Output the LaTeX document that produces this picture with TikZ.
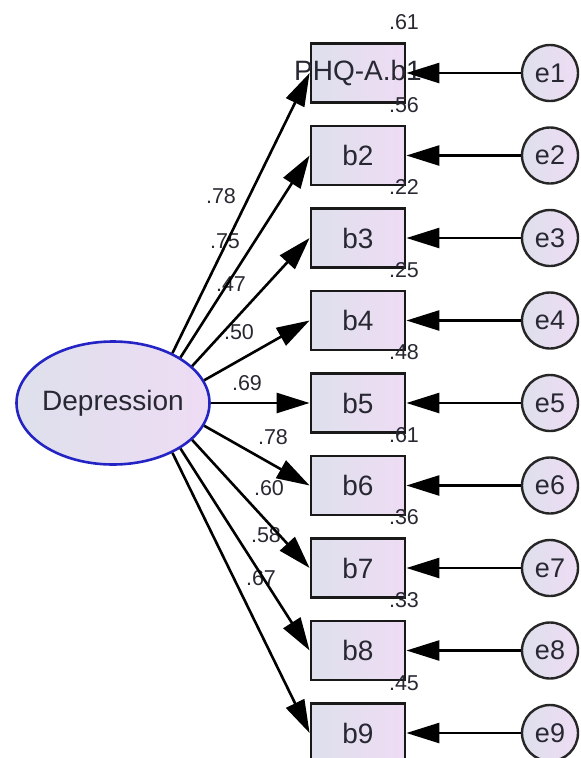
\documentclass[tikz,border=0pt]{standalone}
\usepackage{fontspec}
\setmainfont{Liberation Sans}
\usetikzlibrary{arrows.meta,shapes.geometric}

\definecolor{fillL}{RGB}{222,224,236}
\definecolor{fillR}{RGB}{238,220,244}
\definecolor{latblue}{RGB}{36,36,196}
\definecolor{ink}{RGB}{40,40,50}

\begin{document}
\begin{tikzpicture}[x=1pt,y=-1pt,
  obs/.style={draw=black!90, line width=2.8pt, left color=fillL, right color=fillR,
    minimum width=94pt, minimum height=59pt, inner sep=0pt,
    font=\fontsize{28}{31}\selectfont, text=ink},
  obstext/.style={inner sep=0pt, font=\fontsize{28}{31}\selectfont, text=ink},
  err/.style={circle, draw=black!85, line width=2.4pt, left color=fillL, right color=fillR,
    minimum size=56pt, inner sep=0pt, font=\fontsize{27}{30}\selectfont, text=ink},
  lat/.style={ellipse, draw=latblue, line width=2.6pt, left color=fillL, right color=fillR,
    minimum width=193pt, minimum height=123pt, inner sep=0pt},
  link/.style={draw=black, line width=2.6pt, -{Triangle[length=33pt,width=20pt]}},
  num/.style={inner sep=0pt, font=\fontsize{21.5}{24}\selectfont, text=ink}
]
\useasboundingbox (0,0) rectangle (581,758);
\clip (0,0) rectangle (581,758);

% latent factor
\node[lat] (dep) at (113,403) {};
\node[obstext] (deptext) at (dep.center) {Depression};

% observed items
\node[obs] (b1) at (358,73) {};
\node[obstext] (b1t) at (b1.center) {PHQ-A.b1};
\node[obs] (b2) at (358,155.5) {b2};
\node[obs] (b3) at (358,238) {b3};
\node[obs] (b4) at (358,320.5) {b4};
\node[obs] (b5) at (358,403) {b5};
\node[obs] (b6) at (358,485.5) {b6};
\node[obs] (b7) at (358,568) {b7};
\node[obs] (b8) at (358,650.5) {b8};
\node[obs] (b9) at (358,733) {b9};

% error terms
\node[err] (e1) at (550,73) {e1};
\node[err] (e2) at (550,155.5) {e2};
\node[err] (e3) at (550,238) {e3};
\node[err] (e4) at (550,320.5) {e4};
\node[err] (e5) at (550,403) {e5};
\node[err] (e6) at (550,485.5) {e6};
\node[err] (e7) at (550,568) {e7};
\node[err] (e8) at (550,650.5) {e8};
\node[err] (e9) at (550,733) {e9};

% squared multiple correlations
\node[num] (r1) at (404,22) {.61};
\node[num] (r2) at (404,105) {.56};
\node[num] (r3) at (404,187) {.22};
\node[num] (r4) at (404,270) {.25};
\node[num] (r5) at (404,352) {.48};
\node[num] (r6) at (404,435) {.61};
\node[num] (r7) at (404,517) {.36};
\node[num] (r8) at (404,600) {.33};
\node[num] (r9) at (404,683) {.45};

% standardized loadings
\node[num] (l1) at (221,196) {.78};
\node[num] (l2) at (225,241) {.75};
\node[num] (l3) at (231,284) {.47};
\node[num] (l4) at (239,332) {.50};
\node[num] (l5) at (247,383) {.69};
\node[num] (l6) at (273,437) {.78};
\node[num] (l7) at (269,488) {.60};
\node[num] (l8) at (266,535) {.58};
\node[num] (l9) at (261,578) {.67};

% factor loadings
\draw[link] (dep.40)  -- (b1.west);
\draw[link] (dep.34)  -- (b2.west);
\draw[link] (dep.25)  -- (b3.west);
\draw[link] (dep.14)  -- (b4.west);
\draw[link] (dep.0)   -- (b5.west);
\draw[link] (dep.346) -- (b6.west);
\draw[link] (dep.335) -- (b7.west);
\draw[link] (dep.326) -- (b8.west);
\draw[link] (dep.320) -- (b9.west);

% error paths
\foreach \i in {1,...,9}
  \draw[link] (e\i) -- (b\i.east);
\end{tikzpicture}
\end{document}
